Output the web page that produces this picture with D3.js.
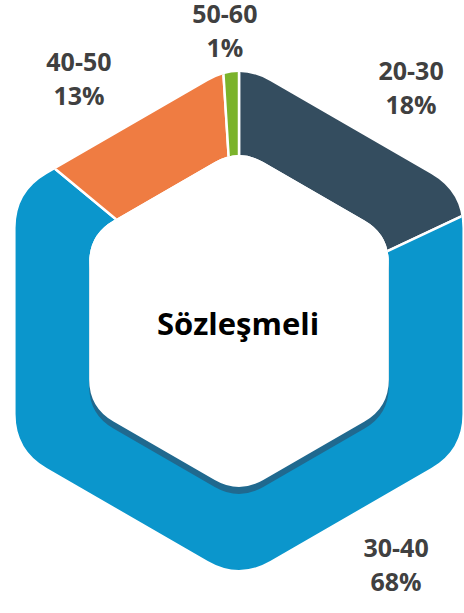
<!DOCTYPE html>
<html>
<head>
<meta charset="utf-8">
<style>
  body { margin: 0; background: #fff; }
  svg { display: block; }
  text { font-family: "Open Sans", sans-serif; font-weight: 700; }
</style>
</head>
<body>
<div id="chart-area"></div>
<script src="https://d3js.org/d3.v7.min.js"></script>
<script>
  // data
  const categories = ["20-30", "30-40", "40-50", "50-60"];
  const shares = [18, 68, 13, 1];
  const colors = ["#344d5f", "#0b96cc", "#ef7c42", "#7bb32b"];
  const centerTitle = "Sözleşmeli";

  const width = 464;
  const height = 613;
  const cx = 239, cy = 321;
  const outerR = 258;   // hexagon vertex radius
  const innerR = 173;

  const svg = d3.select("#chart-area")
    .append("svg")
      .attr("width", width)
      .attr("height", height);

  // rounded pointy-top hexagon path
  function hexPath(r, d, dx = 0, dy = 0) {
    const pts = d3.range(6).map(i => {
      const a = i * Math.PI / 3;
      return [dx + r * Math.sin(a), dy - r * Math.cos(a)];
    });
    const t = d / r;
    const lerp = (p, q, k) => [p[0] + (q[0] - p[0]) * k, p[1] + (q[1] - p[1]) * k];
    const p = d3.path();
    pts.forEach((v, i) => {
      const prev = pts[(i + 5) % 6], next = pts[(i + 1) % 6];
      const a = lerp(v, prev, t), b = lerp(v, next, t);
      if (i === 0) p.moveTo(a[0], a[1]); else p.lineTo(a[0], a[1]);
      p.quadraticCurveTo(v[0], v[1], b[0], b[1]);
    });
    p.closePath();
    return p.toString();
  }

  svg.append("defs").append("clipPath")
      .attr("id", "ring")
    .append("path")
      .attr("clip-rule", "evenodd")
      .attr("d", hexPath(outerR, 36) + hexPath(innerR, 28));

  const g = svg.append("g")
      .attr("transform", `translate(${cx},${cy})`);

  const pie = d3.pie().sort(null).value(d => d);
  const arcs = pie(shares);

  const wedge = d3.arc().innerRadius(0).outerRadius(420);

  g.append("g")
      .attr("clip-path", "url(#ring)")
    .selectAll("path")
    .data(arcs)
    .join("path")
      .attr("d", wedge)
      .attr("fill", (d, i) => colors[i])
      .attr("stroke", "#fff")
      .attr("stroke-width", 2.5);

  // shadow under the hole, then the white hole on top
  g.append("path")
      .attr("d", hexPath(innerR, 28, 0, 7))
      .attr("fill", "#20698f");

  g.append("path")
      .attr("d", hexPath(innerR, 28))
      .attr("fill", "#fff");

  g.append("text")
      .attr("x", -1)
      .attr("y", 14)
      .attr("text-anchor", "middle")
      .attr("font-size", 31)
      .attr("fill", "#000")
      .text(centerTitle);

  // labels outside the ring
  const labelR = 290;
  const nudge = [4, -40, -6.5, -1]; // degrees, like Excel's best-fit placement
  const labels = g.selectAll("g.lbl")
    .data(arcs)
    .join("g")
      .attr("class", "lbl")
      .attr("transform", (d, i) => {
        const a = (d.startAngle + d.endAngle) / 2 + nudge[i] * Math.PI / 180;
        return `translate(${labelR * Math.sin(a)},${-labelR * Math.cos(a)})`;
      });

  labels.append("text")
      .attr("text-anchor", "middle")
      .attr("font-size", 25)
      .attr("fill", "#404040")
      .attr("y", -8)
      .text((d, i) => categories[i]);

  labels.append("text")
      .attr("text-anchor", "middle")
      .attr("font-size", 25)
      .attr("fill", "#404040")
      .attr("y", 26)
      .text(d => d3.format(".0%")(d.data / d3.sum(shares)));
</script>
</body>
</html>
